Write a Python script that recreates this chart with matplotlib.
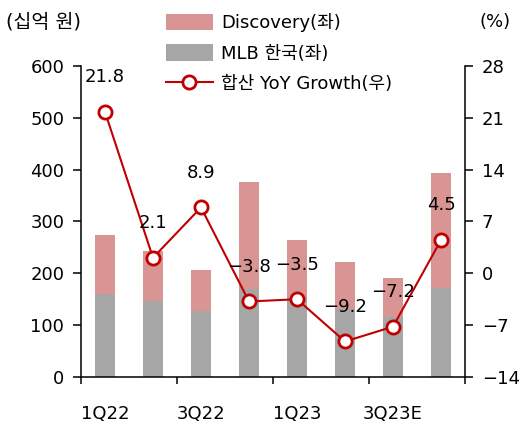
import matplotlib
matplotlib.use('Agg')
import matplotlib.pyplot as plt
import numpy as np

plt.rcParams['font.family'] = ['DejaVu Sans', 'Noto Sans CJK KR']
plt.rcParams['axes.unicode_minus'] = True

# 데이터
quarters = ['1Q22', '2Q22', '3Q22', '4Q22', '1Q23', '2Q23', '3Q23E', '4Q23E']
tick_labels = ['1Q22', '3Q22', '1Q23', '3Q23E']
mlb = [161, 146, 127, 170, 155, 132, 115, 171]
discovery = [113, 97, 79, 206, 109, 89, 76, 222]
growth = [21.8, 2.1, 8.9, -3.8, -3.5, -9.2, -7.2, 4.5]

pink = '#D99594'
gray = '#A6A6A6'
red = '#C00000'
fs = 13

fig = plt.figure(figsize=(5.28, 4.26), dpi=100)
ax = fig.add_axes([0.1534, 0.1150, 0.7273, 0.7301])
ax2 = ax.twinx()

x = np.arange(len(quarters))
b1 = ax.bar(x, mlb, width=0.4, color=gray, label='MLB 한국(좌)', zorder=2)
b2 = ax.bar(x, discovery, width=0.4, bottom=mlb, color=pink, label='Discovery(좌)', zorder=2)

l1, = ax2.plot(x, growth, color=red, lw=1.5, marker='o', markersize=9.5,
               markerfacecolor='white', markeredgecolor=red, markeredgewidth=2,
               label='합산 YoY Growth(우)', zorder=3)
for xi, g in zip(x, growth):
    ax2.annotate(f'{g:.1f}'.replace('-', '\u2212'), (xi, g), xytext=(0, 25),
                 textcoords='offset points', ha='center', va='center', fontsize=fs)

ax.set_xlim(-0.5, 7.5)
ax.set_ylim(0, 600)
ax.set_yticks(range(0, 601, 100))
ax2.set_ylim(-14, 28)
ax2.set_yticks(range(-14, 29, 7))
ax2.set_yticklabels([str(v).replace('-', '\u2212') for v in range(-14, 29, 7)])

# x축: 경계에 눈금, 레이블은 분기 중앙
ax.set_xticks([-0.5, 1.5, 3.5, 5.5, 7.5])
ax.set_xticklabels([])
ax.set_xticks([0, 2, 4, 6], minor=True)
ax.set_xticklabels(tick_labels, minor=True)
ax.tick_params(axis='x', which='major', direction='out', length=5, width=1.1)
ax.tick_params(axis='x', which='minor', length=0, pad=20, labelsize=fs)
ax.tick_params(axis='y', direction='out', length=6, width=1.1, labelsize=fs, pad=6)
ax2.tick_params(axis='y', direction='out', length=6, width=1.1, labelsize=fs, pad=6)

for a in (ax, ax2):
    a.spines['top'].set_visible(False)
    for s in ('left', 'right', 'bottom'):
        a.spines[s].set_linewidth(1.1)
ax.spines['right'].set_visible(False)
ax2.spines['left'].set_visible(False)
ax2.spines['bottom'].set_visible(False)

fig.text(0.012, 0.948, '(십억 원)', fontsize=14, ha='left', va='center')
fig.text(0.968, 0.948, '(%)', fontsize=fs, ha='right', va='center')

fig.legend([b2, b1, l1], ['Discovery(좌)', 'MLB 한국(좌)', '합산 YoY Growth(우)'],
           loc='upper left', bbox_to_anchor=(0.295, 0.993), frameon=False,
           fontsize=fs, handlelength=2.6, handleheight=1.0, labelspacing=0.69,
           handletextpad=0.45, borderaxespad=0.15)

fig.savefig('out.png', dpi=100)
